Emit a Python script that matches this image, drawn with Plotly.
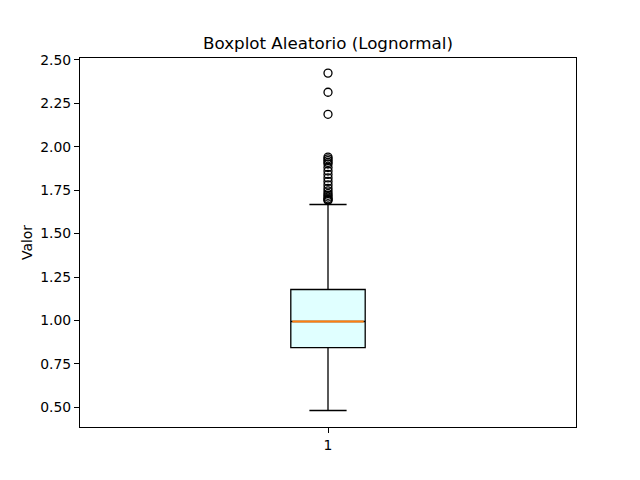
import plotly.graph_objects as go

categories = [1]
q1 = [0.844]
median = [0.994]
q3 = [1.178]
lower_whisker = [0.482]
upper_whisker = [1.667]
outliers = [1.69, 1.695, 1.70, 1.71, 1.72, 1.73, 1.745, 1.76, 1.78, 1.80, 1.82, 1.84,
            1.86, 1.88, 1.90, 1.91, 1.92, 1.93, 1.94, 2.186, 2.313, 2.423]
y_ticks = [0.5, 0.75, 1.0, 1.25, 1.5, 1.75, 2.0, 2.25, 2.5]

box_w = 0.15

fig = go.Figure()
fig.add_trace(go.Box(
    x=categories, q1=q1, median=median, q3=q3,
    lowerfence=lower_whisker, upperfence=upper_whisker,
    width=box_w, whiskerwidth=0.5,
    fillcolor="#E0FFFF", line=dict(color="black", width=1.3),
    boxpoints=False, showlegend=False, hoverinfo="skip",
))
for c, m in zip(categories, median):
    fig.add_trace(go.Scatter(
        x=[c - box_w / 2 + 0.003, c + box_w / 2 - 0.003], y=[m, m], mode="lines",
        line=dict(color="#ff7f0e", width=1.8), showlegend=False, hoverinfo="skip",
    ))
fig.add_trace(go.Scatter(
    x=[categories[0]] * len(outliers), y=outliers, mode="markers",
    marker=dict(symbol="circle-open", size=8, color="black", line=dict(width=1.3)),
    showlegend=False, hoverinfo="skip",
))

axis_common = dict(showline=True, linecolor="black", linewidth=1, mirror=True,
                   showgrid=False, zeroline=False, ticks="outside", ticklen=5,
                   tickcolor="black", tickfont=dict(size=13.9, color="black"),
                   automargin=False)
fig.update_layout(
    width=640, height=480,
    margin=dict(l=72, r=72, t=50, b=61),
    paper_bgcolor="white", plot_bgcolor="white",
    font=dict(family="DejaVu Sans", color="black"),
    title=dict(text="Boxplot Aleatorio (Lognormal)", x=0.5, xanchor="center",
               y=0.927, yanchor="middle", font=dict(size=16.7), automargin=False),
    xaxis=dict(range=[0.5, 1.5], tickvals=categories, ticktext=[str(c) for c in categories],
               **axis_common),
    yaxis=dict(range=[0.387, 2.51], tickvals=y_ticks, tickformat=".2f",
               title=dict(text="Valor", font=dict(size=13.9), standoff=4), **axis_common),
)
fig.write_html("out.html")
